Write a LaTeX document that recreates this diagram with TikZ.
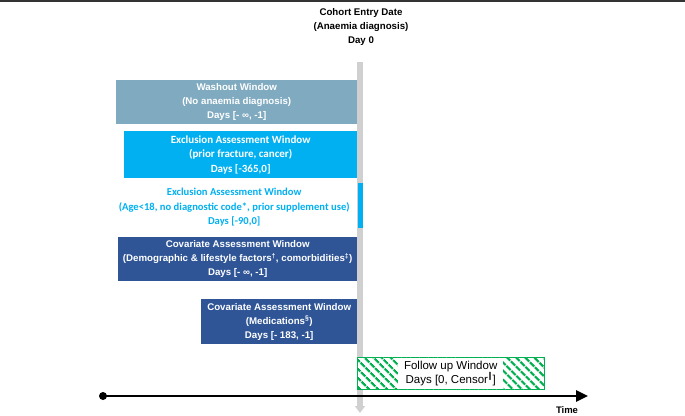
\documentclass[tikz,border=0pt]{standalone}
\usepackage{fontspec}
\setmainfont{Liberation Sans}
\newfontfamily\calibri{Carlito}
\newfontfamily\dejavu{DejaVu Sans}
\usetikzlibrary{arrows.meta, patterns.meta}

\definecolor{washblue}{RGB}{128,170,192}
\definecolor{exclcyan}{RGB}{0,176,240}
\definecolor{covblue}{RGB}{47,85,151}
\definecolor{followgreen}{RGB}{0,176,80}
\definecolor{daygrey}{RGB}{208,208,208}

\begin{document}
\begin{tikzpicture}[x=1pt, y=1pt, >=Stealth,
  window/.style={inner sep=0pt, align=center, anchor=north west, text=white,
    font=\bfseries\fontsize{9.7}{14}\selectfont},
  exclwindow/.style={window, font=\calibri\bfseries\fontsize{11}{14.5}\selectfont}]

\useasboundingbox (0,0) rectangle (685,-415);

% Draw the frame line on top
\draw[line width=2.5pt, black!80] (0,-1) -- (685,-1);

% Draw the cohort entry label and the day 0 bar
\node[align=center, font=\bfseries\fontsize{9.7}{14}\selectfont] (entry) at (361,-27) {Cohort Entry Date\\(Anaemia diagnosis)\\Day 0};
\coordinate (daytop) at (360,-62);
\coordinate (daybottom) at (360,-413);
\draw[daygrey, line width=5.5pt, -{Triangle[width=10pt,length=7pt]}] (daytop) -- (daybottom);

% Draw the washout and exclusion windows
\node[window, fill=washblue, minimum width=241pt, minimum height=44pt] (washout) at (116,-80) {Washout Window\\(No anaemia diagnosis)\\Days [- ∞, -1]};
\node[exclwindow, fill=exclcyan, minimum width=233pt, minimum height=47pt] (exclprior) at (124,-131) {Exclusion Assessment Window\\(prior fracture, cancer)\\Days [-365,0]};
\node[exclwindow, text=exclcyan, minimum width=232pt, minimum height=46pt, font=\calibri\bfseries\fontsize{10.6}{14.5}\selectfont] (exclage) at (118,-184) {Exclusion Assessment Window\\(Age<18, no diagnostic code*, prior supplement use)\\Days [-90,0]};
\node[fill=exclcyan, inner sep=0pt, anchor=north west, minimum width=5pt, minimum height=45pt] (exclbar) at (358,-183) {};

% Draw the covariate windows
\node[window, fill=covblue, minimum width=239pt, minimum height=44pt] (covlife) at (118,-237) {Covariate Assessment Window\\(Demographic \& lifestyle factors\textsuperscript{†}, comorbidities\textsuperscript{‡})\\Days [- ∞, -1]};
\node[window, fill=covblue, minimum width=156pt, minimum height=45pt] (covmed) at (201,-299) {Covariate Assessment Window\\(Medications\textsuperscript{§})\\Days [- 183, -1]};

% Draw the follow up window with its hatching
\node[draw=followgreen, fill=white, postaction={pattern={Lines[angle=-45,distance=6.5pt,line width=2.5pt]}, pattern color=followgreen}, inner sep=0pt, anchor=north west, minimum width=187pt, minimum height=32pt] (followup) at (357,-357) {};
\node[fill=white, inner sep=0pt, align=center, minimum width=105pt, minimum height=31pt, font=\fontsize{11.5}{14}\selectfont] (followlabel) at (followup.center) {Follow up Window\\Days [0, Censor\textsuperscript{\dejavu ‖}]};

% Draw the time axis
\node[circle, fill=black, inner sep=0pt, minimum size=8pt] (start) at (103,-396) {};
\coordinate (timeend) at (588,-396);
\draw[line width=2.5pt, -{Triangle[width=11pt,length=12pt]}] (start.center) -- (timeend);
\node[font=\bfseries\fontsize{9.5}{11}\selectfont] (time) at (567,-410) {Time};

\end{tikzpicture}
\end{document}
